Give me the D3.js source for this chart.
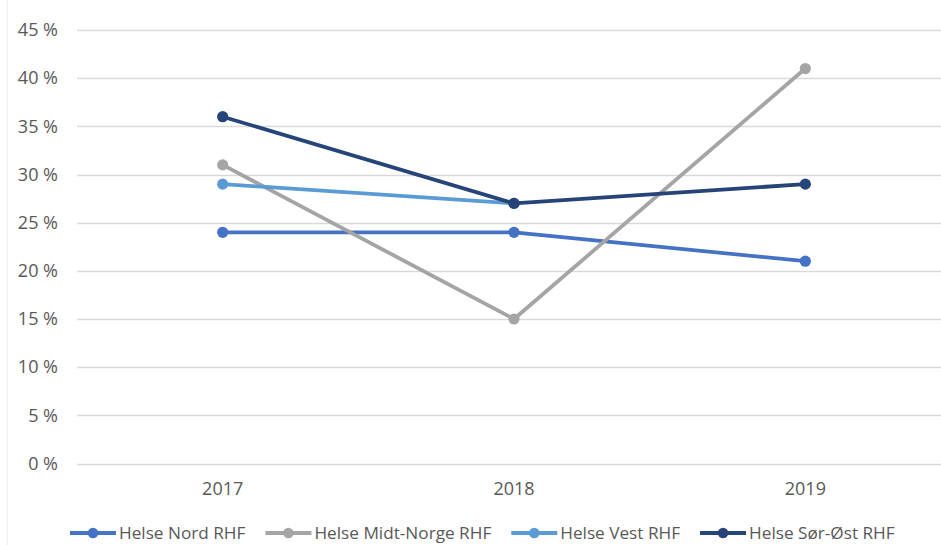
<!DOCTYPE html>
<html>
<head>
<meta charset="utf-8">
<script src="https://cdn.jsdelivr.net/npm/d3@7"></script>
<style>
  html, body { margin: 0; padding: 0; background: #fff; }
  svg { display: block; }
  text { font-family: "Open Sans", "Liberation Sans", sans-serif; fill: #595959; }
</style>
</head>
<body>
<svg id="chart" width="941" height="545"></svg>
<script>
const years = ["2017", "2018", "2019"];
const yTicks = [0, 5, 10, 15, 20, 25, 30, 35, 40, 45];
const seriesNames = ["Helse Nord RHF", "Helse Midt-Norge RHF", "Helse Vest RHF", "Helse Sør-Øst RHF"];
const seriesColors = ["#4472C4", "#A5A5A5", "#5B9BD5", "#264478"];
const nordValues = [24, 24, 21];
const midtValues = [31, 15, 41];
const vestValues = [29, 27, null];
const sorOstValues = [36, 27, 29];

const allValues = [nordValues, midtValues, vestValues, sorOstValues];

const svg = d3.select("#chart");
const W = 941, H = 545;
const margin = { left: 77, right: -10, top: 30, bottom: 82 };
const plotW = W - margin.left - margin.right;

const x = d3.scaleBand().domain(years).range([margin.left, margin.left + plotW]);
const y = d3.scaleLinear().domain([0, 45]).range([463.5, 30]);

// faint chart frame line on left
svg.append("line").attr("x1", 7.5).attr("x2", 7.5).attr("y1", 0).attr("y2", H)
  .attr("stroke", "#f0f0f0").attr("stroke-width", 1);

// gridlines
svg.append("g").selectAll("line").data(yTicks).join("line")
  .attr("x1", margin.left).attr("x2", W)
  .attr("y1", d => Math.round(y(d)) + 0.5).attr("y2", d => Math.round(y(d)) + 0.5)
  .attr("stroke", "#d9d9d9").attr("stroke-width", 1.3);

// y axis labels
const yAxis = d3.axisLeft(y).tickValues(yTicks).tickSize(0).tickPadding(0)
  .tickFormat(d => d + " %");
const gy = svg.append("g").attr("transform", "translate(58,0)").call(yAxis);
gy.select(".domain").remove();
gy.selectAll("text").attr("font-size", 18).style("font-family", '"Open Sans", sans-serif').attr("fill", "#595959");

// x axis labels
const xAxis = d3.axisBottom(x).tickSize(0).tickPadding(0);
const gx = svg.append("g").attr("transform", "translate(0,482)").call(xAxis);
gx.select(".domain").remove();
gx.selectAll("text").attr("font-size", 18).style("font-family", '"Open Sans", sans-serif').attr("fill", "#595959");

const cx = d => x(d) + x.bandwidth() / 2;

// lines
const line = d3.line()
  .defined(d => d.v !== null)
  .x(d => cx(d.year)).y(d => y(d.v));

allValues.forEach((vals, i) => {
  const pts = years.map((yr, j) => ({ year: yr, v: vals[j] }));
  const g = svg.append("g");
  g.append("path").datum(pts).attr("d", line)
    .attr("fill", "none").attr("stroke", seriesColors[i]).attr("stroke-width", 3.8)
    .attr("stroke-linejoin", "round").attr("stroke-linecap", "round");
  g.selectAll("circle").data(pts.filter(d => d.v !== null)).join("circle")
    .attr("cx", d => cx(d.year)).attr("cy", d => y(d.v)).attr("r", 5.6)
    .attr("fill", seriesColors[i]);
});

// legend
const legend = svg.append("g");
const legendY = 533;
let lx = 70;
const legendGap = 20;
seriesNames.forEach((name, i) => {
  const item = legend.append("g");
  item.append("line").attr("x1", lx).attr("x2", lx + 46).attr("y1", legendY).attr("y2", legendY)
    .attr("stroke", seriesColors[i]).attr("stroke-width", 3.8);
  item.append("circle").attr("cx", lx + 23).attr("cy", legendY).attr("r", 5.3).attr("fill", seriesColors[i]);
  const t = item.append("text").attr("x", lx + 49).attr("y", legendY + 6)
    .attr("font-size", 17.2).text(name);
  const w = t.node().getComputedTextLength();
  lx = lx + 49 + w + legendGap;
});
</script>
</body>
</html>
